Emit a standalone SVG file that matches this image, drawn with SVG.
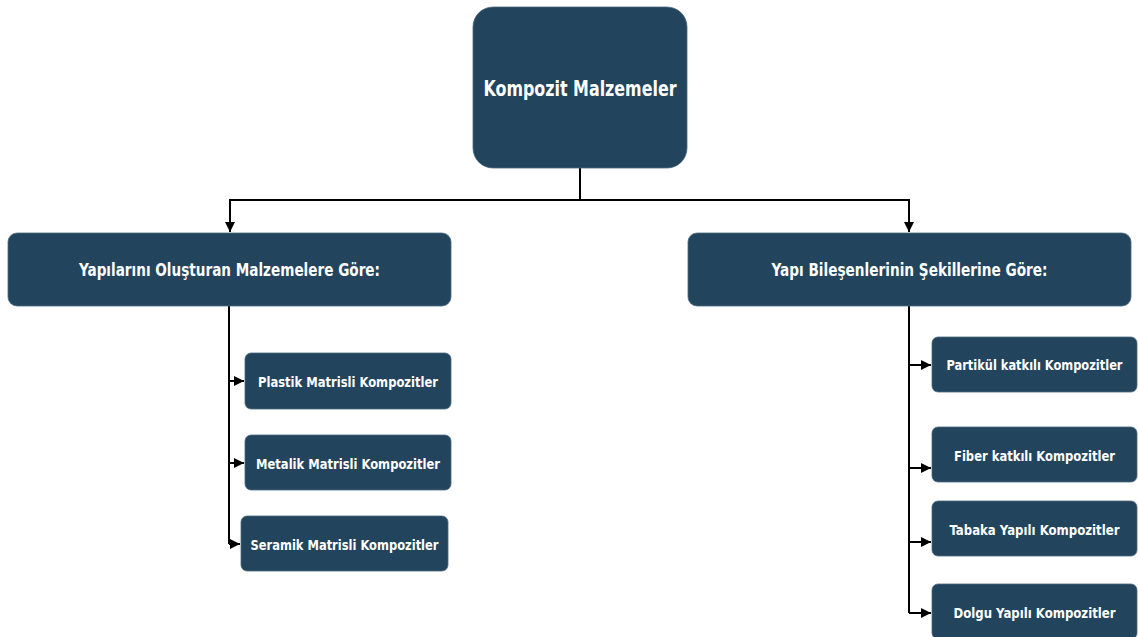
<svg xmlns="http://www.w3.org/2000/svg" width="1138" height="637" viewBox="0 0 1138 637">
<style>
.box{fill:#23445d;stroke:#4b6a80;stroke-width:0.8}
.t{fill:#ffffff;font-family:"DejaVu Sans Condensed","DejaVu Sans",sans-serif;font-weight:bold;text-anchor:middle;dominant-baseline:central}
.c{fill:none;stroke:#000000;stroke-width:2}
</style>
<defs>
<marker id="ah" viewBox="0 0 10 10" refX="10" refY="5" markerWidth="5" markerHeight="5" markerUnits="strokeWidth" orient="auto">
<path d="M0,0 L10,5 L0,10 Z" fill="#000000"/>
</marker>
</defs>
<rect width="1138" height="637" fill="#ffffff"/>
<g id="connectors">
<path class="c" d="M580,168 V200"/>
<path class="c" d="M229,200 H910"/>
<path class="c" d="M230,200 V232" marker-end="url(#ah)"/>
<path class="c" d="M909,200 V232" marker-end="url(#ah)"/>
<path class="c" d="M229,306 V544"/>
<path class="c" d="M229,381 H244" marker-end="url(#ah)"/>
<path class="c" d="M229,463 H244" marker-end="url(#ah)"/>
<path class="c" d="M229,544 H240" marker-end="url(#ah)"/>
<path class="c" d="M909,306 V613"/>
<path class="c" d="M909,365 H931" marker-end="url(#ah)"/>
<path class="c" d="M909,468 H931" marker-end="url(#ah)"/>
<path class="c" d="M909,542 H931" marker-end="url(#ah)"/>
<path class="c" d="M909,613 H931" marker-end="url(#ah)"/>
</g>
<g id="root">
<rect class="box" x="473" y="7" width="214" height="161" rx="20"/>
<text class="t" x="580" y="89" font-size="20.5" textLength="193" lengthAdjust="spacingAndGlyphs">Kompozit Malzemeler</text>
</g>
<g id="n-left">
<rect class="box" x="8" y="233" width="443" height="73" rx="9"/>
<text class="t" x="229.5" y="270" font-size="17" textLength="301" lengthAdjust="spacingAndGlyphs">Yapılarını Oluşturan Malzemelere Göre:</text>
</g>
<g id="n-right">
<rect class="box" x="688" y="233" width="443" height="73" rx="9"/>
<text class="t" x="909.5" y="270" font-size="17" textLength="276" lengthAdjust="spacingAndGlyphs">Yapı Bileşenlerinin Şekillerine Göre:</text>
</g>
<g id="n-plastik">
<rect class="box" x="245" y="353" width="206" height="56" rx="6"/>
<text class="t" x="348" y="382" font-size="14.5" textLength="180" lengthAdjust="spacingAndGlyphs">Plastik Matrisli Kompozitler</text>
</g>
<g id="n-metalik">
<rect class="box" x="245" y="435" width="206" height="55" rx="6"/>
<text class="t" x="348" y="464" font-size="14.5" textLength="184" lengthAdjust="spacingAndGlyphs">Metalik Matrisli Kompozitler</text>
</g>
<g id="n-seramik">
<rect class="box" x="241" y="516" width="207" height="55" rx="6"/>
<text class="t" x="344.5" y="545" font-size="14.5" textLength="188" lengthAdjust="spacingAndGlyphs">Seramik Matrisli Kompozitler</text>
</g>
<g id="n-partikul">
<rect class="box" x="932" y="337" width="205" height="55" rx="6"/>
<text class="t" x="1034.5" y="365" font-size="13.6" textLength="176" lengthAdjust="spacingAndGlyphs">Partikül katkılı Kompozitler</text>
</g>
<g id="n-fiber">
<rect class="box" x="932" y="427" width="205" height="55" rx="6"/>
<text class="t" x="1034.5" y="456" font-size="14.5" textLength="161" lengthAdjust="spacingAndGlyphs">Fiber katkılı Kompozitler</text>
</g>
<g id="n-tabaka">
<rect class="box" x="932" y="501" width="205" height="55" rx="6"/>
<text class="t" x="1034.5" y="530" font-size="14.5" textLength="170" lengthAdjust="spacingAndGlyphs">Tabaka Yapılı Kompozitler</text>
</g>
<g id="n-dolgu">
<rect class="box" x="932" y="584" width="205" height="55" rx="6"/>
<text class="t" x="1034.5" y="613" font-size="14.5" textLength="162" lengthAdjust="spacingAndGlyphs">Dolgu Yapılı Kompozitler</text>
</g>
</svg>
